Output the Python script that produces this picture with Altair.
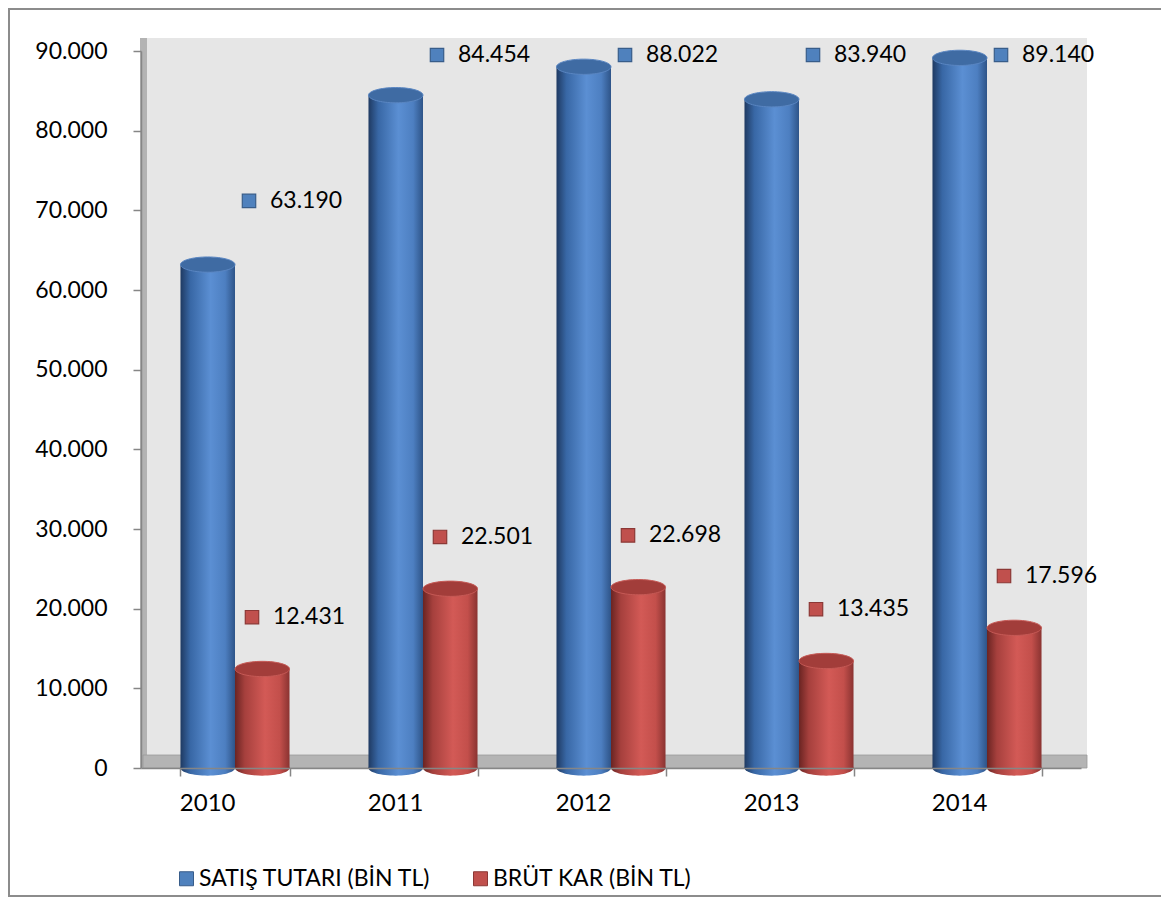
import altair as alt
import pandas as pd

years = ["2010", "2011", "2012", "2013", "2014"]
satis = [63190, 84454, 88022, 83940, 89140]
brut = [12431, 22501, 22698, 13435, 17596]
series_names = ["SATIŞ TUTARI (BİN TL)", "BRÜT KAR (BİN TL)"]
y_ticks = [0, 10000, 20000, 30000, 40000, 50000, 60000, 70000, 80000, 90000]

rows = []
for i, yr in enumerate(years):
    rows.append({"year": yr, "series": series_names[0], "value": satis[i], "s": 0})
    rows.append({"year": yr, "series": series_names[1], "value": brut[i], "s": 1})
df = pd.DataFrame(rows)

FONT = "Lato"
W, H = 940, 717

blue_grad = alt.LinearGradient(
    gradient="linear", x1=0, x2=1, y1=0, y2=0,
    stops=[alt.GradientStop(color="#1F3A62", offset=0),
           alt.GradientStop(color="#3867A5", offset=0.18),
           alt.GradientStop(color="#5B8FD3", offset=0.55),
           alt.GradientStop(color="#4D7FC1", offset=0.82),
           alt.GradientStop(color="#2E5488", offset=1)])
red_grad = alt.LinearGradient(
    gradient="linear", x1=0, x2=1, y1=0, y2=0,
    stops=[alt.GradientStop(color="#6A2422", offset=0),
           alt.GradientStop(color="#A6403D", offset=0.18),
           alt.GradientStop(color="#D35A56", offset=0.55),
           alt.GradientStop(color="#C34F4B", offset=0.82),
           alt.GradientStop(color="#8A3331", offset=1)])

ellipse = "M -1 0 A 1 0.28 0 1 1 1 0 A 1 0.28 0 1 1 -1 0 Z"
bar_w = 54.5
esize = bar_w * bar_w

x_scale = alt.Scale(domain=years, paddingInner=0.42, paddingOuter=0.21)
x_enc = alt.X("year:N", scale=x_scale,
              axis=alt.Axis(title=None, labelAngle=0, labelFont=FONT, labelFontSize=24,
                            labelColor="black", labelPadding=27, tickBand="extent",
                            tickSize=8, tickColor="#868686", domainColor="#868686",
                            domainWidth=1.5, tickWidth=1.5, grid=False, zindex=1))
xo_enc = alt.XOffset("series:N", scale=alt.Scale(domain=series_names, paddingInner=0, paddingOuter=0))
y_scale = alt.Scale(domain=[0, 90000], nice=False, zero=True)
y_enc = alt.Y("value:Q", scale=y_scale,
              axis=alt.Axis(title=None, values=y_ticks,
                            labelExpr="replace(format(datum.value, ','), ',', '.')",
                            labelFont=FONT, labelFontSize=23, labelColor="black",
                            labelPadding=26, tickSize=8, tickColor="#868686",
                            domainColor="#868686", domainWidth=1.5, tickWidth=1.5,
                            grid=False, zindex=1))

base = alt.Chart(df)
one = alt.Chart(pd.DataFrame({"d": [0]}))

frame = one.mark_rect(fillOpacity=0, stroke="#8C8C8C", strokeWidth=2).encode(
    x=alt.value(-132), x2=alt.value(1040), y=alt.value(-42), y2=alt.value(845))
wall = one.mark_rect(fill="#E6E6E6").encode(
    x=alt.value(6), x2=alt.value(946), y=alt.value(-13), y2=alt.value(704))
side = one.mark_rect(fill="#B3B3B3").encode(
    x=alt.value(-1), x2=alt.value(6), y=alt.value(-13), y2=alt.value(717))
floor = one.mark_rect(fill="#B4B4B4", stroke="#9A9A9A", strokeWidth=0.8).encode(
    x=alt.value(2), x2=alt.value(946), y=alt.value(704), y2=alt.value(717))

def cyl(s, grad, top_fill, top_stroke):
    b = base.transform_filter(f"datum.s == {s}")
    bottom = b.transform_calculate(zero="0").mark_point(
        shape=ellipse, size=esize, filled=True, fill=grad, opacity=1, strokeWidth=0
    ).encode(x=alt.X("year:N", scale=x_scale), xOffset=xo_enc,
             y=alt.Y("zero:Q", scale=y_scale))
    body = b.mark_bar(color=grad).encode(x=x_enc, xOffset=xo_enc, y=y_enc)
    top = b.mark_point(
        shape=ellipse, size=esize, filled=True, fill=top_fill, opacity=1,
        stroke=top_stroke, strokeWidth=1
    ).encode(x=alt.X("year:N", scale=x_scale), xOffset=xo_enc,
             y=alt.Y("value:Q", scale=y_scale))
    return [bottom, body, top]

layers = [wall, side, floor]
layers += cyl(0, blue_grad, "#3F6BA3", "#5A86C2")
layers += cyl(1, red_grad, "#A23D3A", "#C65A56")

lab = base.transform_calculate(
    ly="datum.s == 0 ? min(datum.value + 8000, 89500) : datum.value + 6500",
    txt="replace(format(datum.value, ','), ',', '.')")

color_scale = alt.Scale(domain=series_names, range=["#4F81BD", "#C0504D"])
stroke_scale = alt.Scale(domain=series_names, range=["#385D8A", "#8C3836"])

for s, off, dx in [(0, 14, 35), (1, 17, 38)]:
    ls = lab.transform_filter(f"datum.s == {s}")
    sq = ls.mark_point(shape="square", size=180, filled=True, opacity=1,
                       strokeWidth=1.2, xOffset=off).encode(
        x=alt.X("year:N", scale=x_scale),
        y=alt.Y("ly:Q", scale=y_scale),
        fill=alt.Fill("series:N", scale=color_scale, legend=alt.Legend(
            orient="none", legendX=34, legendY=816, direction="horizontal", title=None,
            symbolType="square", symbolSize=196, symbolStrokeColor="#555555",
            symbolStrokeWidth=1, labelFont=FONT, labelFontSize=23, labelColor="black",
            labelOffset=1, columnPadding=38, labelLimit=400)),
        stroke=alt.Stroke("series:N", scale=stroke_scale, legend=None))
    tx = ls.mark_text(align="left", baseline="middle", dx=dx, font=FONT, fontSize=23,
                      color="black").encode(
        x=alt.X("year:N", scale=x_scale),
        y=alt.Y("ly:Q", scale=y_scale),
        text="txt:N")
    layers += [sq, tx]

layers.append(frame)

chart = alt.layer(*layers).properties(
    width=W, height=H,
    padding={"left": 133, "top": 43, "right": 80, "bottom": 130},
    autosize=alt.AutoSizeParams(type="none"),
    background="white",
).configure_view(stroke=None)

chart.save("out.html", embed_options={"renderer": "svg", "actions": False})
